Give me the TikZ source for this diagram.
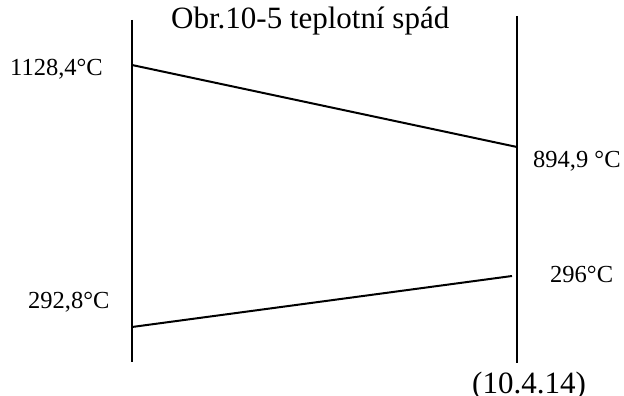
\documentclass[tikz,border=0pt]{standalone}
\usepackage{fontspec}
\setmainfont{Liberation Serif}
\usetikzlibrary{positioning}
\tikzstyle{temp} = [inner sep=0pt, anchor=base west, font=\fontsize{24.5}{29}\selectfont]
\tikzstyle{big} = [inner sep=0pt, anchor=base west, font=\fontsize{31}{37}\selectfont]
\tikzstyle{wall} = [line width=2pt]

\begin{document}
\begin{tikzpicture}[x=1pt, y=-1pt]
\useasboundingbox (0,0) rectangle (624,396);
\coordinate (lt) at (132,20);
\coordinate (lb) at (132,362);
\coordinate (rt) at (517,16);
\coordinate (rb) at (517,363);
\coordinate (hotl) at (132,65);
\coordinate (hotr) at (517,147);
\coordinate (coldl) at (132,327);
\coordinate (coldr) at (512,276);
\draw[wall] (lt) -- (lb);
\draw[wall] (rt) -- (rb);
\draw[wall] (hotl) -- (hotr);
\draw[wall] (coldl) -- (coldr);
\node[big] (title) at (171,29) {Obr.10-5 teplotní spád};
\node[temp] (hotin) at (10,75) {1128,4\textdegree C};
\node[temp] (hotout) at (533,167) {894,9 \textdegree C};
\node[temp] (coldout) at (28,308) {292,8\textdegree C};
\node[temp] (coldin) at (550,282) {296\textdegree C};
\node[big] (date) at (472,393) {(10.4.14)};
\end{tikzpicture}
\end{document}
